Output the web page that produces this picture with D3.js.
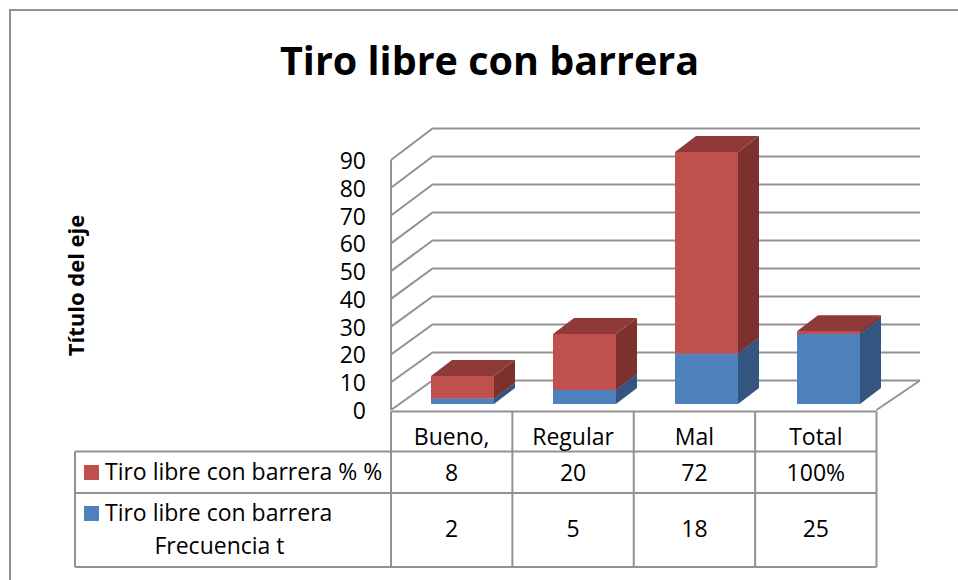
<!DOCTYPE html>
<html>
<head>
<meta charset="utf-8">
<script src="https://cdn.jsdelivr.net/npm/d3@7"></script>
<style>
  html, body { margin: 0; padding: 0; background: #fff; }
  text { font-family: "Open Sans", Lato, sans-serif; fill: #000; }
</style>
</head>
<body>
<div id="chart"></div>
<script>
// data
var categories = ["Bueno,", "Regular", "Mal", "Total"];
var frecuencia = [2, 5, 18, 25];
var porcentaje = [8, 20, 72, 1];
var porcentajeLabels = ["8", "20", "72", "100%"];
var yTicks = [0, 10, 20, 30, 40, 50, 60, 70, 80, 90];

var width = 958, height = 580;
var gridColor = "#929292";
var bodySize = "23px";

var svg = d3.select("#chart").append("svg")
    .attr("width", width)
    .attr("height", height);

// outer frame, it runs off the right and bottom edge
svg.append("path")
    .attr("d", "M10,580V10H958")
    .attr("fill", "none")
    .attr("stroke", gridColor)
    .attr("stroke-width", 2);

svg.append("text")
    .attr("x", 489.5)
    .attr("y", 75)
    .attr("text-anchor", "middle")
    .style("font-size", "39.5px")
    .style("font-weight", "700")
    .text("Tiro libre con barrera");

svg.append("text")
    .attr("transform", "translate(84,285.5)rotate(-90)")
    .attr("text-anchor", "middle")
    .style("font-size", "22px")
    .style("font-weight", "700")
    .text("Título del eje");

// front plane, back wall and bar scales
var x = d3.scaleBand().domain(categories).range([391, 876.5]);
var xBar = d3.scaleBand().domain(categories).range([401.5, 889.5]);
var y = d3.scaleLinear().domain([0, 90]).range([410, 160]);
var yBack = d3.scaleLinear().domain([0, 90]).range([380.5, 128.5]);
var yBar = d3.scaleLinear().domain([0, 90]).range([404, 152]);

var backX = 432.5, backRight = 920;
var barW = 63, barDx = 21, barDy = -16;

function poly(pts) { return "M" + pts.map(function(p) { return p.join(","); }).join("L") + "Z"; }

// walls and floor
var walls = svg.append("g")
    .attr("fill", "none")
    .attr("stroke", gridColor)
    .attr("stroke-width", 2);

yTicks.forEach(function(t) {
  walls.append("polyline")
      .attr("points", [[391, y(t)], [backX, yBack(t)], [backRight, yBack(t)]].join(" "));
});
walls.append("line")
    .attr("x1", 391).attr("x2", 391)
    .attr("y1", y(0)).attr("y2", y(90));
walls.append("polyline")
    .attr("points", [[876.5, y(0)], [backRight, yBack(0)]].join(" "));

// y labels
svg.append("g").selectAll("text")
    .data(yTicks)
    .enter()
    .append("text")
    .attr("x", 366)
    .attr("y", function(d) { return y(d) + 9; })
    .attr("text-anchor", "end")
    .style("font-size", bodySize)
    .text(function(d) { return d; });

// stacked bars, one box per segment
var seriesList = [
  {values: frecuencia, base: function() { return 0; }, front: "#4f81bd", side: "#34557f", top: "#3f6797"},
  {values: porcentaje, base: function(i) { return frecuencia[i]; }, front: "#c0504d", side: "#7d312f", top: "#8f3a38"}
];

seriesList.forEach(function(s) {
  var g = svg.append("g").selectAll("g")
      .data(categories)
      .enter()
      .append("g");

  function left(d) { return xBar(d) + xBar.bandwidth() / 2 - barW / 2; }
  function y0(i) { return yBar(s.base(i)); }
  function y1(i) { return yBar(s.base(i) + s.values[i]); }

  g.append("path")
      .attr("fill", s.side)
      .attr("d", function(d, i) {
        var r = left(d) + barW;
        return poly([[r, y1(i)], [r + barDx, y1(i) + barDy], [r + barDx, y0(i) + barDy], [r, y0(i)]]);
      });
  g.append("path")
      .attr("fill", s.top)
      .attr("d", function(d, i) {
        var l = left(d);
        return poly([[l, y1(i)], [l + barDx, y1(i) + barDy], [l + barW + barDx, y1(i) + barDy], [l + barW, y1(i)]]);
      });
  g.append("rect")
      .attr("fill", s.front)
      .attr("x", left)
      .attr("y", function(d, i) { return y1(i); })
      .attr("width", barW)
      .attr("height", function(d, i) { return y0(i) - y1(i); });
});

// data table
var rowHead = 411.5, rowTop = 451.5, rowMid = 493, rowBottom = 567, tableLeft = 75, tableRight = 876.5;
var table = svg.append("g")
    .attr("stroke", gridColor)
    .attr("stroke-width", 2);

table.append("line").attr("x1", 391).attr("x2", tableRight).attr("y1", rowHead).attr("y2", rowHead);
[rowTop, rowMid, rowBottom].forEach(function(r) {
  table.append("line").attr("x1", tableLeft).attr("x2", tableRight).attr("y1", r).attr("y2", r);
});
table.append("line").attr("x1", tableLeft).attr("x2", tableLeft).attr("y1", rowTop).attr("y2", rowBottom);
categories.forEach(function(c) {
  table.append("line").attr("x1", x(c)).attr("x2", x(c)).attr("y1", rowHead).attr("y2", rowBottom);
});
table.append("line").attr("x1", tableRight).attr("x2", tableRight).attr("y1", rowHead).attr("y2", rowBottom);

function cellRow(values, yPos) {
  svg.append("g").selectAll("text")
      .data(values)
      .enter()
      .append("text")
      .attr("x", function(d, i) { return x(categories[i]) + x.bandwidth() / 2; })
      .attr("y", yPos)
      .attr("text-anchor", "middle")
      .style("font-size", bodySize)
      .text(function(d) { return d; });
}
cellRow(categories, 444.5);
cellRow(porcentajeLabels, 481);
cellRow(frecuencia, 537);

// legend keys in the table
svg.append("rect").attr("x", 84).attr("y", 465).attr("width", 15).attr("height", 15).attr("fill", "#c0504d");
svg.append("rect").attr("x", 84).attr("y", 506).attr("width", 15).attr("height", 15).attr("fill", "#4f81bd");

svg.append("text").attr("x", 105).attr("y", 480).style("font-size", bodySize).text("Tiro libre con barrera % %");
svg.append("text").attr("x", 105).attr("y", 521).style("font-size", bodySize).text("Tiro libre con barrera");
svg.append("text").attr("x", 219.5).attr("y", 554).attr("text-anchor", "middle").style("font-size", bodySize).text("Frecuencia t");
</script>
</body>
</html>
